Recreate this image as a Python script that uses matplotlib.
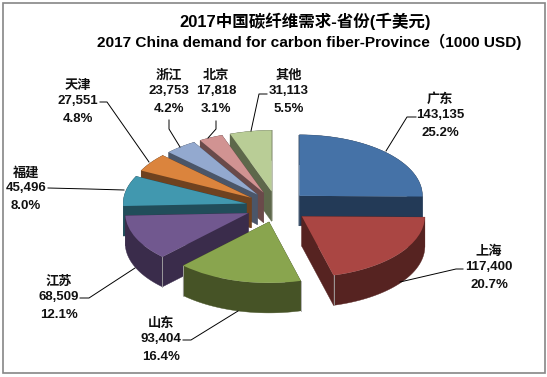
import numpy as np
import matplotlib
matplotlib.use('Agg')
import matplotlib.pyplot as plt
from matplotlib.lines import Line2D
from matplotlib.patches import Polygon, Rectangle

plt.rcParams['font.family'] = ['Liberation Sans', 'Noto Sans CJK SC']

# Data, clockwise from 12 o'clock
provinces = ['广东', '上海', '山东', '江苏', '福建', '天津', '浙江', '北京', '其他']
demand = [143135, 117400, 93404, 68509, 45496, 27551, 23753, 17818, 31113]

top_colors = ['#4572A7', '#AA4643', '#89A54E', '#71588F', '#4198AF',
              '#DB843D', '#93A9CF', '#D19392', '#B9CD96']
side_colors = ['#233A57', '#562321', '#465326', '#3A2C4B', '#214D5A',
               '#6F421F', '#4B5669', '#6A4A4A', '#5E684B']

# label centre and leader line, in pixels of the 547x377 picture
label_pos = [(440, 100), (489, 252), (161, 324), (59, 282), (26, 173),
             (78, 86), (169, 76), (216, 76), (289, 76)]
leaders = [
    [(416, 117), (407, 117), (386, 151)],
    [(463, 269), (456, 269), (400, 282)],
    [(183, 340), (191, 340), (238, 311)],
    [(80, 298), (89, 298), (135, 268)],
    [(48, 188), (89, 189), (124, 190)],
    [(100, 102), (107, 102), (149, 162)],
    [(169, 120), (169, 129), (180, 147)],
    [(216, 121), (216, 129), (208, 138)],
    [(267, 94), (259, 94), (251, 131)],
]

W, H = 547, 377
cx, cy = 277, 206.8   # pie centre in pixels
rx, ry = 123, 61      # radii of the flattened pie in pixels
depth = 30 / ry       # thickness in y data units


def px(x, y):
    return x / W, 1 - y / H


fig = plt.figure(figsize=(W / 100, H / 100), dpi=100)
ax = fig.add_axes([0, 0, 1, 1])
wedges, _ = ax.pie(demand, explode=[0.256] * len(demand), startangle=90,
                   counterclock=False, colors=top_colors, radius=1)
ax.set_aspect('auto')
ax.set_xlim(-cx / rx, (W - cx) / rx)
ax.set_ylim((cy - H) / ry, cy / ry)
ax.axis('off')

# extrude each slice downwards, slices at the back first
order = sorted(range(len(wedges)), key=lambda i: -wedges[i].center[1])
for z, i in enumerate(order):
    w = wedges[i]
    c = np.array(w.center)
    t = np.radians(np.linspace(w.theta1, w.theta2, 60))
    arc = np.column_stack([c[0] + np.cos(t), c[1] + np.sin(t)])
    down = np.array([0, depth])
    faces = [
        np.vstack([arc, arc[::-1] - down]),
        np.array([c, arc[0], arc[0] - down, c - down]),
        np.array([c, arc[-1], arc[-1] - down, c - down]),
    ]
    base = 2 + z * 2
    for f in faces:
        ax.add_patch(Polygon(f, closed=True, facecolor=side_colors[i],
                             edgecolor=side_colors[i], lw=0.3, zorder=base))
    w.set_zorder(base + 1)
    w.set_edgecolor('none')
    # pale vertical edge where a slice corner faces the viewer
    for p in (arc[0], arc[-1]):
        if p[1] < c[1] - 0.1:
            ax.add_line(Line2D([p[0], p[0]], [p[1], p[1] - depth], color='#a8a8a8',
                               lw=0.6, zorder=base + 1))

total = sum(demand)
for name, val, (x, y), pts in zip(provinces, demand, label_pos, leaders):
    for txt, dy in ((name, 0), (f'{val:,}', 15), (f'{val / total * 100:.1f}%', 33)):
        xf, yf = px(x, y + dy)
        fig.text(xf, yf, txt, ha='center', va='center', fontsize=9.5,
                 fontweight='bold', color='#111111')
    fig.add_artist(Line2D([px(*p)[0] for p in pts], [px(*p)[1] for p in pts],
                          color='black', lw=0.7))

xf, yf = px(305, 21)
fig.text(xf, yf, '2017中国碳纤维需求-省份(千美元)', ha='center', va='center',
         fontsize=11.9, fontweight='bold', color='black')
xf, yf = px(309, 42)
fig.text(xf, yf, '2017 China demand for carbon fiber-Province（1000 USD)', ha='center',
         va='center', fontsize=11.1, fontweight='bold', color='black')

# chart border
x0, y0 = px(3, 373)
fig.add_artist(Rectangle((x0, y0), 542 / W, 370 / H, fill=False, edgecolor='#868686',
                         lw=1.2, transform=fig.transFigure))

fig.savefig('out.png', dpi=100)
